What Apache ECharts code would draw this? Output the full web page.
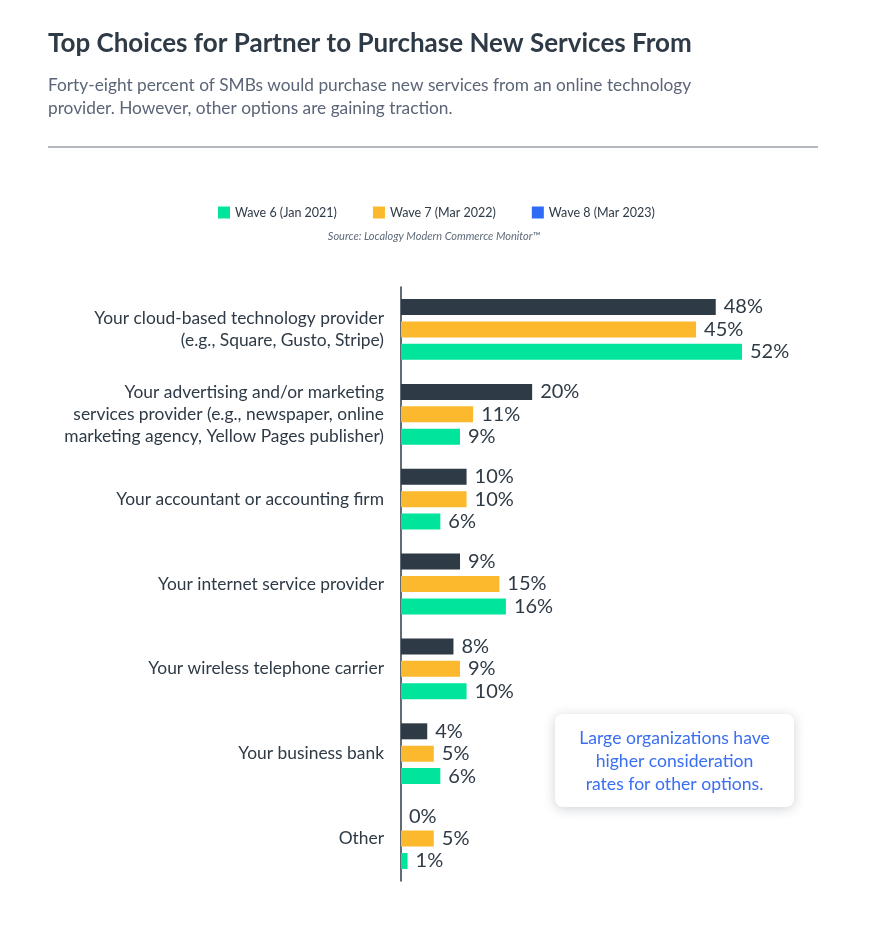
<!DOCTYPE html>
<html>
<head>
<meta charset="utf-8">
<script src="https://cdn.jsdelivr.net/npm/echarts@6/dist/echarts.min.js"></script>
<style>
	html, body { margin: 0; padding: 0; background: #fff; }
	#main { width: 874px; height: 925px; }
</style>
</head>
<body>
<div id="main"></div>
<script type="text/javascript">

	var categories = [
		'Your cloud-based technology provider\n(e.g., Square, Gusto, Stripe)',
		'Your advertising and/or marketing\nservices provider (e.g., newspaper, online\nmarketing agency, Yellow Pages publisher)',
		'Your accountant or accounting firm',
		'Your internet service provider',
		'Your wireless telephone carrier',
		'Your business bank',
		'Other'
	];
	var wave8 = [48, 20, 10, 9, 8, 4, 0];
	var wave7 = [45, 11, 10, 15, 9, 5, 5];
	var wave6 = [52, 9, 6, 16, 10, 6, 1];

	var font = 'Lato';
	var ink = '#2e3a46';

	function barSeries(name, data, color) {
		return {
			name: name,
			type: 'bar',
			data: data,
			barWidth: 16,
			barGap: '40%',
			itemStyle: { color: color },
			label: {
				show: true,
				position: 'right',
				distance: 8,
				formatter: '{c}%',
				fontFamily: font,
				fontSize: 20,
				color: ink
			}
		};
	}

	var chart = echarts.init(document.getElementById('main'));
	chart.setOption({
		animation: false,
		textStyle: { fontFamily: font },
		title: [
			{
				text: 'Top Choices for Partner to Purchase New Services From',
				left: 48, top: 31, padding: 0,
				textStyle: { fontFamily: font, fontSize: 26, fontWeight: 'bold', color: ink }
			},
			{
				text: 'Forty-eight percent of SMBs would purchase new services from an online technology\nprovider. However, other options are gaining traction.',
				left: 48, top: 74, padding: 0,
				textStyle: { fontFamily: font, fontSize: 17.3, fontWeight: 'normal', color: '#5b6577', lineHeight: 23 }
			},
			{
				text: 'Source: Localogy Modern Commerce Monitor™',
				left: 434, top: 231, textAlign: 'center', padding: 0,
				textStyle: { fontFamily: font, fontSize: 11, fontStyle: 'italic', fontWeight: 'normal', color: '#5f6b7a' }
			}
		],
		legend: {
			left: 218, top: 206, padding: 0,
			itemWidth: 12, itemHeight: 12, itemGap: 36,
			icon: 'rect',
			textStyle: { fontFamily: font, fontSize: 12.5, color: ink },
			data: [
				{ name: 'Wave 6 (Jan 2021)' },
				{ name: 'Wave 7 (Mar 2022)' },
				{ name: 'Wave 8 (Mar 2023)', itemStyle: { color: '#2f6bf5' } }
			],
			selectedMode: false
		},
		grid: { left: 401, top: 287, height: 594, width: 459 },
		xAxis: {
			type: 'value', min: 0, max: 70,
			show: false
		},
		yAxis: {
			type: 'category',
			data: categories,
			inverse: true,
			axisLine: { show: true, lineStyle: { color: ink, width: 1.5 } },
			axisTick: { show: false },
			axisLabel: {
				margin: 17,
				fontFamily: font,
				fontSize: 17.4,
				lineHeight: 22,
				color: ink,
				align: 'right'
			}
		},
		series: [
			barSeries('Wave 8 (Mar 2023)', wave8, '#2e3a46'),
			barSeries('Wave 7 (Mar 2022)', wave7, '#fdb92e'),
			barSeries('Wave 6 (Jan 2021)', wave6, '#00e59b')
		],
		graphic: [
			{
				type: 'line',
				shape: { x1: 48, y1: 147, x2: 818, y2: 147 },
				style: { stroke: '#6b7280', lineWidth: 1 }
			},
			{
				type: 'rect',
				shape: { x: 555, y: 714, width: 239, height: 93, r: 8 },
				style: { fill: '#fff', shadowBlur: 12, shadowColor: 'rgba(40,50,70,0.22)', shadowOffsetY: 2 }
			},
			{
				type: 'text',
				x: 674.5, y: 761,
				style: {
					text: 'Large organizations have\nhigher consideration\nrates for other options.',
					font: '17.6px ' + font,
					fill: '#3a6ff2',
					align: 'center',
					verticalAlign: 'middle',
					lineHeight: 23
				}
			}
		]
	});

</script>
</body>
</html>
